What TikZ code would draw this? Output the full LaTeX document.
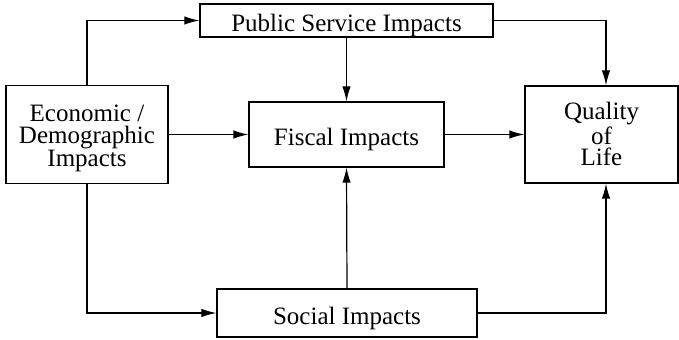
\documentclass[tikz,border=0pt]{standalone}
\usepackage{fontspec}
\setmainfont{Liberation Serif}
\usepackage{tikz}
\usetikzlibrary{arrows.meta}

\tikzset{
  impact/.style={rectangle, draw, line width=0.6pt, align=center,
                 inner sep=0pt, font=\fontsize{12.5}{10.75}\selectfont},
  oneline/.style={text height=11.3pt, text depth=0pt},
  flow/.style={line width=0.6pt, -{Latex[length=7.5pt, width=4.2pt]}}
}

\begin{document}
\begin{tikzpicture}
\def\dx{0.5pt}

\useasboundingbox (-346.5*\dx,134.5*\dx) rectangle (332.5*\dx,-205.5*\dx);

\node[impact, oneline,
      minimum width=195*\dx, 
      minimum height=65*\dx] (fiscal) {Fiscal Impacts};

\node[impact, 
      minimum width=162*\dx, 
      minimum height=98*\dx, 
      text height=32.5pt, text depth=0pt,
      xshift=-259.5*\dx] (econ) {Economic /\\Demographic\\Impacts};

\node[impact, oneline,
      minimum width=293*\dx, 
      minimum height=33*\dx, 
      yshift=114*\dx] (public) {Public Service Impacts};

\node[impact, 
      minimum width=153*\dx, 
      minimum height=97*\dx, 
      text height=31.5pt, text depth=0pt,
      xshift=255*\dx] (life) {Quality\\of\\Life};

\node[impact, oneline,
      minimum width=260*\dx, 
      minimum height=48*\dx, 
      xshift=0.5*\dx,
      yshift=-178.5*\dx] (social) {Social Impacts};

\draw[flow] (econ.north) |- (public.west);
\draw[flow] (econ.east) -- (fiscal.west);
\draw[flow] (econ.south) |- (social.west);
\draw[flow] (public.south) -- (fiscal.north);
\draw[flow] (public.east) -| ([xshift=4.5*\dx]life.north);
\draw[flow] (fiscal.east) -- (life.west);
\draw[flow] (social.north) -- (fiscal.south);
\draw[flow] (social.east) -| ([xshift=4.5*\dx]life.south);
\end{tikzpicture}
\end{document}
